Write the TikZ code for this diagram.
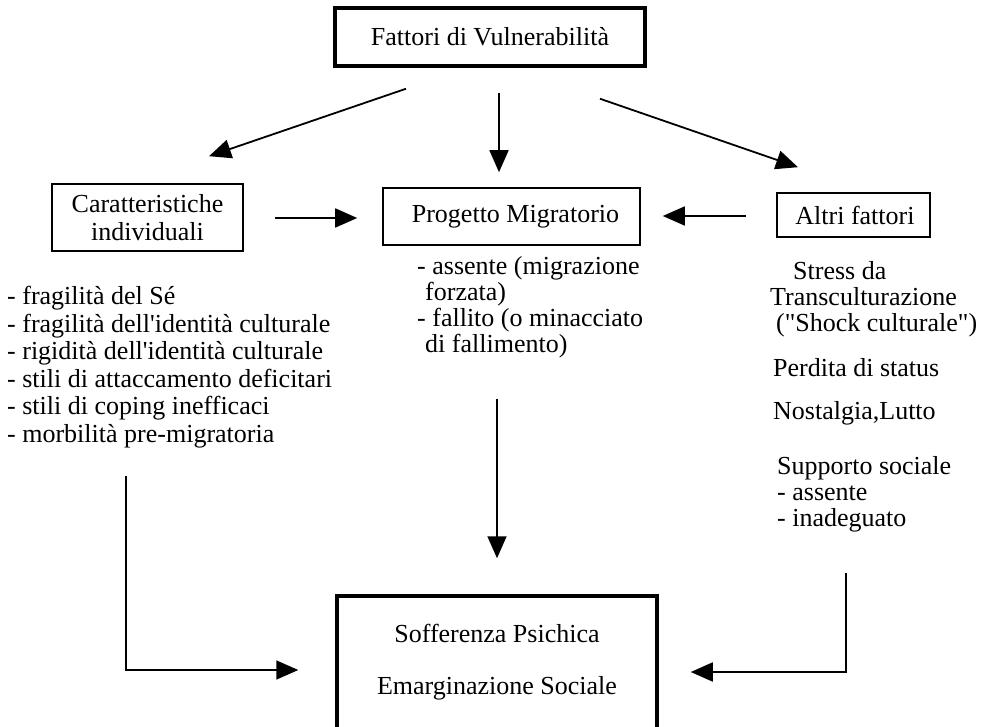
\documentclass[tikz,border=0pt]{standalone}
\usepackage{fontspec}
\setmainfont{Liberation Serif}
\usetikzlibrary{arrows.meta, calc, positioning}

\newcommand{\fs}{\fontsize{26}{27.5}\selectfont}
\newcommand{\fsn}{\fontsize{26}{26}\selectfont}

\tikzset{
  box/.style={draw, line width=1.6pt, inner sep=0pt, align=center, font=\fs},
  heavybox/.style={box, line width=3.5pt},
  txt/.style={inner sep=0pt, align=left, font=\fs},
  arr/.style={-{Triangle[length=22pt, width=19pt]}, line width=1.8pt},
}

\begin{document}
\begin{tikzpicture}[x=1pt, y=-1pt]
    \useasboundingbox (0,0) rectangle (986,727);

    % boxes
    \node[heavybox, minimum width=310pt, minimum height=58pt] (fattori) at (490,37) {Fattori di Vulnerabilità};
    \node[box, minimum width=191pt, minimum height=67pt] (caratt) at (147.5,217.5) {Caratteristiche\\individuali};
    \node[box, minimum width=257pt, minimum height=57pt] (progetto) at (511.5,216.5) {\hspace*{8pt}Progetto Migratorio};
    \node[box, minimum width=153pt, minimum height=44pt] (altri) at (853.5,215) {\hspace*{3pt}Altri fattori};
    \node[heavybox, minimum width=320pt, minimum height=148pt] (soffer) at (497,670) {};
    \node[txt] (psichica) at (497,633) {Sofferenza Psichica};
    \node[txt] (emarg) at (497,688) {Emarginazione Sociale};

    % lists
    \node[txt, anchor=north west] (caratlist) at (7,286) {- fragilità del Sé\\- fragilità dell\textquotesingle identità culturale\\- rigidità dell\textquotesingle identità culturale\\- stili di attaccamento deficitari\\- stili di coping inefficaci\\- morbilità pre-migratoria};
    \node[txt, anchor=north west, font=\fsn] (progettolist) at (417,256) {- assente (migrazione\\\hspace*{8pt}forzata)\\- fallito (o minacciato\\\hspace*{8pt}di fallimento)};
    \node[txt, anchor=north west, font=\fsn] (stress) at (770,261) {\hspace*{23pt}Stress da\\Transculturazione\\\hspace*{6pt}(\textquotedbl Shock culturale\textquotedbl)};
    \node[txt, anchor=west] (perdita) at (773,368) {Perdita di status};
    \node[txt, anchor=west] (nostalgia) at (773,413) {Nostalgia,Lutto};
    \node[txt, anchor=north west, font=\fsn] (supporto) at (777,456) {Supporto sociale\\- assente\\- inadeguato};

    \coordinate (sxstart) at (126,476);
    \coordinate (dxstart) at (846,573);

    % arrows
    \draw[arr] ($(fattori.south)+(-84,21)$) -- ($(caratt.north)+(61.5,-27)$);
    \draw[arr] ($(fattori.south)+(9,25)$) -- ($(progetto.north)+(-12.5,-15)$);
    \draw[arr] ($(fattori.south)+(110,31)$) -- ($(altri.north)+(-55.5,-25)$);
    \draw[arr] ($(caratt.east)+(31,0.5)$) -- ($(progetto.west)+(-25,1.5)$);
    \draw[arr] ($(altri.west)+(-30,1)$) -- ($(progetto.east)+(22,-0.5)$);
    \draw[arr] ($(progetto.south)+(-14.5,153)$) -- ($(soffer.north)+(0,-36)$);
    \draw[arr] (sxstart) |- ($(soffer.west)+(-37,0)$);
    \draw[arr] (dxstart) |- ($(soffer.east)+(32,2)$);
\end{tikzpicture}
\end{document}
